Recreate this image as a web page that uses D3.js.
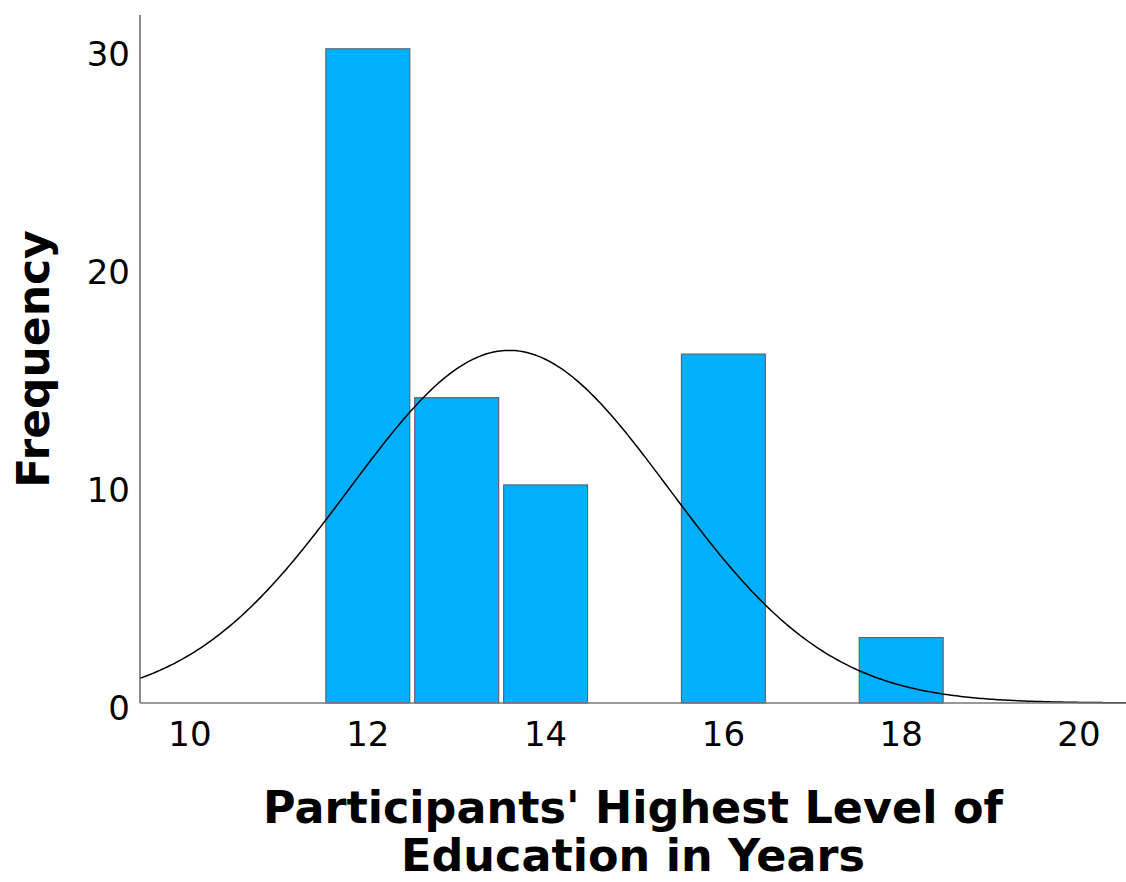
<!DOCTYPE html>
<html>
<head>
<meta charset="utf-8">
<script src="https://cdn.jsdelivr.net/npm/d3@7"></script>
<style>
  html, body { margin: 0; padding: 0; background: #fff; }
  svg { display: block; }
  text { font-family: "DejaVu Sans", Verdana, sans-serif; fill: #000; }
</style>
</head>
<body>
<svg id="chart" width="1126" height="882"></svg>
<script>
// Years of education (bin centres) and number of participants in each bin
const years = [12, 13, 14, 16, 18];
const counts = [30, 14, 10, 16, 3];

// Axis tick values
const xTicks = [10, 12, 14, 16, 18, 20];
const yTicks = [0, 10, 20, 30];

// Normal curve parameters for the sample
const sampleMean = 13.59;
const sampleSD = 1.801;
const sampleN = 73;
const binWidth = 1;

const xTitleLines = ["Participants' Highest Level of", "Education in Years"];
const yTitle = "Frequency";

const svg = d3.select("#chart");

const plot = { left: 140, right: 1126, top: 15, bottom: 703 };

const x = d3.scaleLinear().domain([10, 20]).range([190, 1079]);
const y = d3.scaleLinear().domain([0, 31.55]).range([plot.bottom, plot.top]);

// Bars
const data = years.map((v, i) => ({ year: v, count: counts[i] }));
svg.append("g")
  .selectAll("rect")
  .data(data)
  .join("rect")
  .attr("x", d => x(d.year - binWidth / 2) + 2.5)
  .attr("width", d => x(d.year + binWidth / 2) - x(d.year - binWidth / 2) - 5)
  .attr("y", d => y(d.count))
  .attr("height", d => y(0) - y(d.count))
  .attr("fill", "#00B0FF")
  .attr("stroke", "#5a6670")
  .attr("stroke-width", 1.2);

// Fitted normal curve
const x0 = x.invert(plot.left), x1 = x.invert(plot.right);
const curvePts = d3.range(0, 401).map(i => {
  const v = x0 + (x1 - x0) * i / 400;
  const z = (v - sampleMean) / sampleSD;
  const f = sampleN * binWidth * Math.exp(-0.5 * z * z) / (sampleSD * Math.sqrt(2 * Math.PI));
  return [v, f];
});
svg.append("path")
  .datum(curvePts)
  .attr("fill", "none")
  .attr("stroke", "#000")
  .attr("stroke-width", 1.5)
  .attr("d", d3.line().x(d => x(d[0])).y(d => y(d[1])));

// Axis lines
svg.append("line")
  .attr("x1", plot.left).attr("x2", plot.left)
  .attr("y1", plot.top).attr("y2", plot.bottom)
  .attr("stroke", "#666").attr("stroke-width", 1.5);
svg.append("line")
  .attr("x1", plot.left).attr("x2", plot.right)
  .attr("y1", plot.bottom).attr("y2", plot.bottom)
  .attr("stroke", "#777").attr("stroke-width", 1.5);

// Tick labels
svg.append("g")
  .selectAll("text")
  .data(yTicks)
  .join("text")
  .attr("x", 130)
  .attr("y", d => y(d) + 5)
  .attr("text-anchor", "end")
  .attr("dominant-baseline", "central")
  .attr("font-size", 34)
  .text(d => d);

svg.append("g")
  .selectAll("text")
  .data(xTicks)
  .join("text")
  .attr("x", d => x(d))
  .attr("y", 734)
  .attr("text-anchor", "middle")
  .attr("dominant-baseline", "central")
  .attr("font-size", 34)
  .text(d => d);

// Axis titles
svg.append("text")
  .attr("transform", `translate(49, ${(plot.top + plot.bottom) / 2}) rotate(-90)`)
  .attr("text-anchor", "middle")
  .attr("font-size", 44)
  .attr("font-weight", "bold")
  .text(yTitle);

svg.append("g")
  .selectAll("text")
  .data(xTitleLines)
  .join("text")
  .attr("x", (plot.left + plot.right) / 2)
  .attr("y", (d, i) => 823 + i * 48)
  .attr("text-anchor", "middle")
  .attr("font-size", 44.5)
  .attr("font-weight", "bold")
  .text(d => d);
</script>
</body>
</html>
